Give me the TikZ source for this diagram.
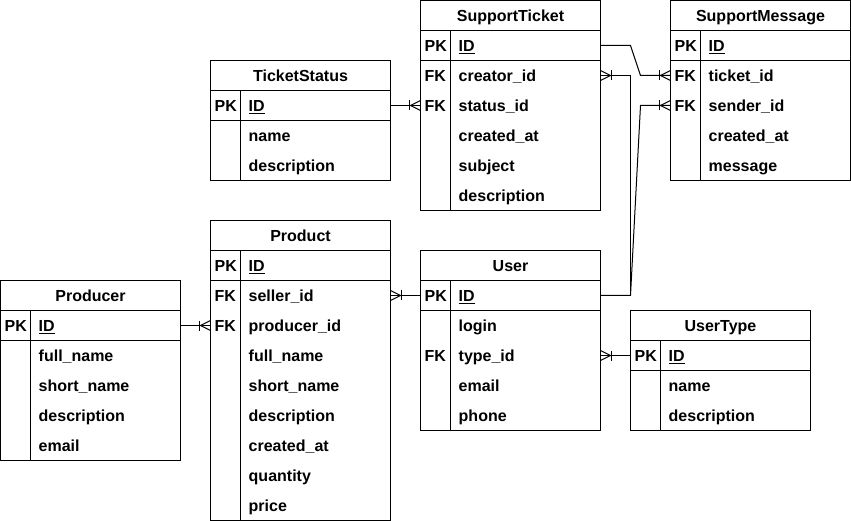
\documentclass[tikz,border=0pt]{standalone}
\usepackage{fontspec}
\setmainfont{Liberation Sans}
\usetikzlibrary{calc}
\tikzset{
  tabline/.style={draw=black, line width=1pt},
  conn/.style={draw=black, line width=1pt},
  tabhead/.style={inner sep=0pt, text height=11.5pt, text depth=0pt, anchor=center, font=\fontsize{16}{19}\selectfont\bfseries},
  keytxt/.style={inner sep=0pt, text height=11.5pt, text depth=0pt, anchor=west, font=\fontsize{16}{19}\selectfont\bfseries},
  rowtxt/.style={inner sep=0pt, text height=11.5pt, text depth=0pt, anchor=west, font=\fontsize{16}{19}\selectfont\bfseries}
}
\newcommand\ertable[6]{%
  \draw[tabline] (#2,#3) rectangle ++(180,{30*(#5+1)});
  \draw[tabline] (#2,{#3+30}) -- ++(180,0);
  \draw[tabline] (#2,{#3+60}) -- ++(180,0);
  \draw[tabline] ({#2+30},{#3+30}) -- ({#2+30},{#3+30*(#5+1)});
  \node[tabhead] (#1) at ({#2+90},{#3+15.6}) {#4};
  \foreach[count=\i] \k/\n in {#6}{
    \node[keytxt] (#1-k\i) at ({#2+4},{#3+30*\i+15.7}) {\k};
    \node[rowtxt] (#1-\i) at ({#2+38},{#3+30*\i+15.7}) {\n};
    \coordinate (#1-\i-w) at (#2,{#3+30*\i+15});
    \coordinate (#1-\i-e) at ({#2+180},{#3+30*\i+15});
  }%
}
\newcommand\crowfoot[2]{%
  \begin{scope}[shift={(#1)}, xscale=#2]
    \draw[conn] (10,0) -- (0,-5) (10,0) -- (0,5);
    \draw[conn] (11,-5) -- (11,5);
  \end{scope}%
}
\begin{document}
\begin{tikzpicture}[x=1pt,y=-1pt]
\fill[white] (-0.5,-0.5) rectangle (850.5,520.5);
\useasboundingbox (-0.5,-0.5) rectangle (850.5,520.5);

\ertable{ST}{420}{0}{SupportTicket}{6}{PK/\underline{ID}, FK/creator\_id, FK/status\_id, /created\_at, /subject, /description}
\ertable{SM}{670}{0}{SupportMessage}{5}{PK/\underline{ID}, FK/ticket\_id, FK/sender\_id, /created\_at, /message}
\ertable{TS}{210}{60}{TicketStatus}{3}{PK/\underline{ID}, /name, /description}
\ertable{P}{210}{220}{Product}{9}{PK/\underline{ID}, FK/seller\_id, FK/producer\_id, /full\_name, /short\_name, /description, /created\_at, /quantity, /price}
\ertable{PR}{0}{280}{Producer}{5}{PK/\underline{ID}, /full\_name, /short\_name, /description, /email}
\ertable{U}{420}{250}{User}{5}{PK/\underline{ID}, /login, FK/type\_id, /email, /phone}
\ertable{UT}{630}{310}{UserType}{3}{PK/\underline{ID}, /name, /description}

% connectors
\draw[conn] (ST-1-e) -- ++(30,0) -- ([xshift=-30pt]SM-2-w) -- (SM-2-w);
\crowfoot{SM-2-w}{-1}
\draw[conn] (TS-1-e) -- (ST-3-w);
\crowfoot{ST-3-w}{-1}
\draw[conn] (ST-2-e) -- ++(30,0) |- (U-1-e);
\crowfoot{ST-2-e}{1}
\draw[conn] (SM-3-w) -- ++(-30,0) -- ([xshift=30pt]U-1-e) -- (U-1-e);
\crowfoot{SM-3-w}{-1}
\draw[conn] (P-2-e) -- (U-1-w);
\crowfoot{P-2-e}{1}
\draw[conn] (PR-1-e) -- (P-3-w);
\crowfoot{P-3-w}{-1}
\draw[conn] (UT-1-w) -- (U-3-e);
\crowfoot{U-3-e}{1}
\end{tikzpicture}
\end{document}
